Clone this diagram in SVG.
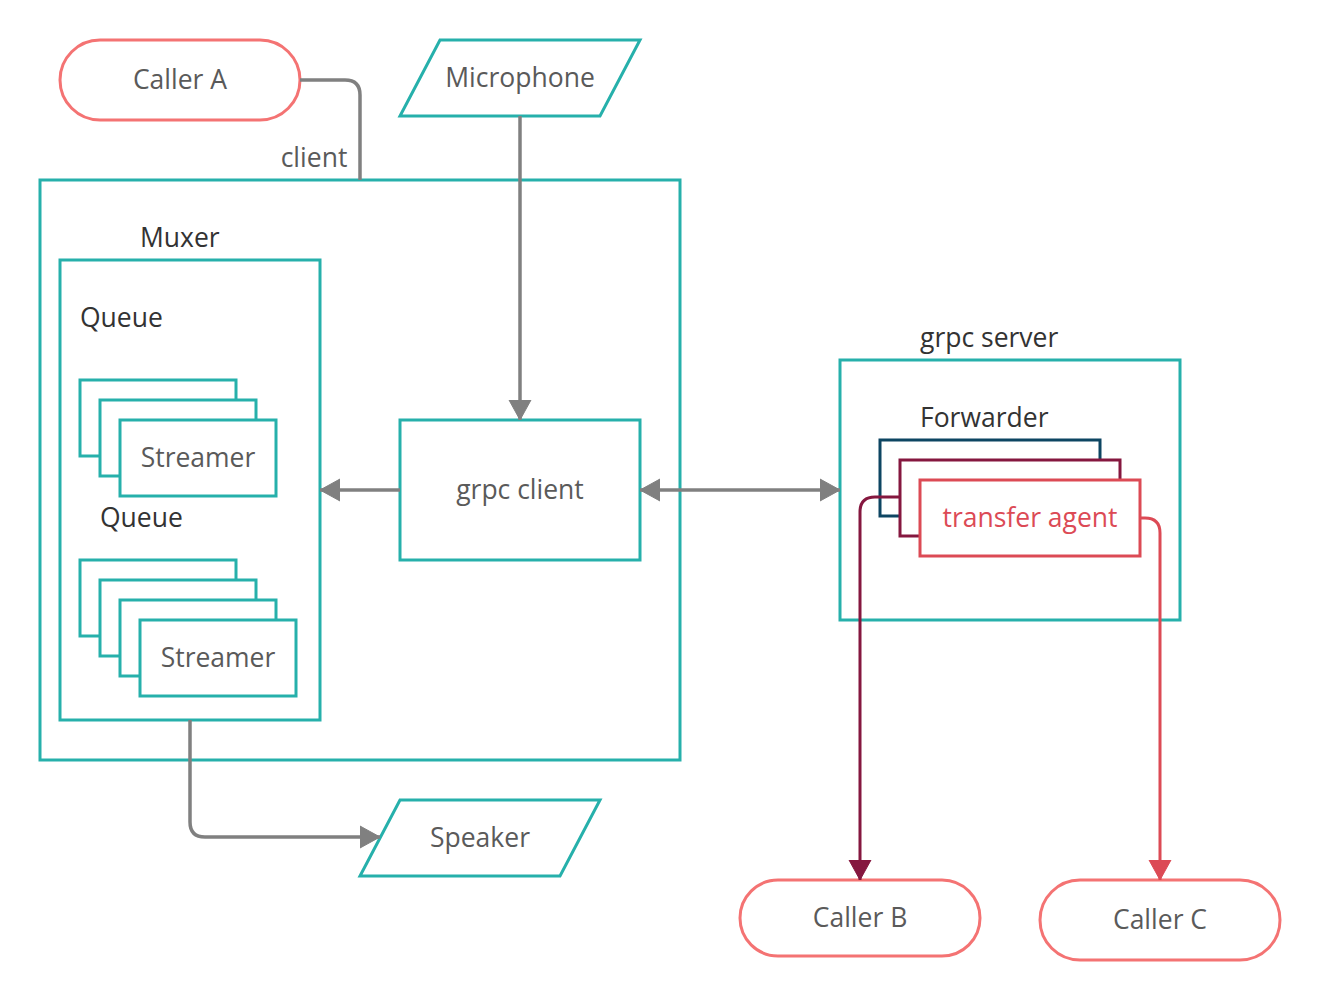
<svg xmlns="http://www.w3.org/2000/svg" width="1320" height="1000" viewBox="0 0 1320 1000">
<defs>
<style>
.t{font-family:"Open Sans","Noto Sans",sans-serif;font-size:26.5px;fill:#5a5a5a;text-anchor:middle}
.h{font-family:"Open Sans","Noto Sans",sans-serif;font-size:26.5px;fill:#333333}
.tl{fill:none;stroke:#26b0ab;stroke-width:3}
.tlw{fill:#ffffff;stroke:#26b0ab;stroke-width:3}
.cl{fill:#ffffff;stroke:#f47373;stroke-width:3}
.g{fill:none;stroke:#808080;stroke-width:3.5}
</style>
<marker id="ag" viewBox="0 0 20 24" refX="20" refY="12" markerWidth="20" markerHeight="24" markerUnits="userSpaceOnUse" orient="auto-start-reverse"><path d="M0,1 L20,12 L0,23 Z" fill="#808080" stroke="#808080" stroke-width="1" stroke-linejoin="round"/></marker>
<marker id="am" viewBox="0 0 20 24" refX="20" refY="12" markerWidth="20" markerHeight="24" markerUnits="userSpaceOnUse" orient="auto"><path d="M0,1 L20,12 L0,23 Z" fill="#85173f" stroke="#85173f" stroke-width="1" stroke-linejoin="round"/></marker>
<marker id="ar" viewBox="0 0 20 24" refX="20" refY="12" markerWidth="20" markerHeight="24" markerUnits="userSpaceOnUse" orient="auto"><path d="M0,1 L20,12 L0,23 Z" fill="#dc4a55" stroke="#dc4a55" stroke-width="1" stroke-linejoin="round"/></marker>
</defs>
<rect width="1320" height="1000" fill="#ffffff"/>

<g id="client-box">
<rect class="tl" x="40" y="180" width="640" height="580"/>
</g>
<g id="muxer">
<text class="h" x="140" y="247">Muxer</text>
<rect class="tl" x="60" y="260" width="260" height="460"/>
</g>
<g id="queue1">
<text class="h" x="80" y="327">Queue</text>
<rect class="tlw" x="80" y="380" width="156" height="76"/>
<rect class="tlw" x="100" y="400" width="156" height="76"/>
<rect class="tlw" x="120" y="420" width="156" height="76"/>
<text class="t" x="198" y="467">Streamer</text>
</g>
<g id="queue2">
<text class="h" x="100" y="527">Queue</text>
<rect class="tlw" x="80" y="560" width="156" height="76"/>
<rect class="tlw" x="100" y="580" width="156" height="76"/>
<rect class="tlw" x="120" y="600" width="156" height="76"/>
<rect class="tlw" x="140" y="620" width="156" height="76"/>
<text class="t" x="218" y="667">Streamer</text>
</g>
<g id="grpc-client">
<rect class="tlw" x="400" y="420" width="240" height="140"/>
<text class="t" x="520" y="499">grpc client</text>
</g>
<g id="caller-a">
<rect class="cl" x="60" y="40" width="240" height="80" rx="40"/>
<text class="t" x="180" y="89">Caller A</text>
</g>
<g id="microphone">
<polygon class="tlw" points="440,40 640,40 600,116 400,116"/>
<text class="t" x="520" y="87">Microphone</text>
</g>
<g id="speaker">
<polygon class="tlw" points="400,800 600,800 560,876 360,876"/>
<text class="t" x="480" y="847">Speaker</text>
</g>
<g id="grpc-server">
<text class="h" x="920" y="347">grpc server</text>
<rect class="tl" x="840" y="360" width="340" height="260"/>
</g>
<g id="forwarder">
<text class="h" x="920" y="427">Forwarder</text>
<rect x="880" y="440" width="220" height="76" fill="#ffffff" stroke="#0d4562" stroke-width="3"/>
<rect x="900" y="460" width="220" height="76" fill="#ffffff" stroke="#85173f" stroke-width="3"/>
<rect x="920" y="480" width="220" height="76" fill="#ffffff" stroke="#dc4a55" stroke-width="3"/>
<text class="t" x="1030" y="527" style="fill:#dc4a55">transfer agent</text>
</g>
<g id="caller-b">
<rect class="cl" x="740" y="880" width="240" height="76" rx="38"/>
<text class="t" x="860" y="927">Caller B</text>
</g>
<g id="caller-c">
<rect class="cl" x="1040" y="880" width="240" height="80" rx="40"/>
<text class="t" x="1160" y="929">Caller C</text>
</g>

<g id="connectors">
<path class="g" d="M300,80 H345 Q360,80 360,95 V180"/>
<text class="t" x="314" y="167">client</text>
<path class="g" d="M520,116 V420" marker-end="url(#ag)"/>
<path class="g" d="M400,490 H320" marker-end="url(#ag)"/>
<path class="g" d="M640,490 H840" marker-start="url(#ag)" marker-end="url(#ag)"/>
<path class="g" d="M190,720 V822 Q190,837 205,837 H380" marker-end="url(#ag)"/>
<path d="M900,497 H875 Q860,497 860,512 V880" fill="none" stroke="#85173f" stroke-width="3" marker-end="url(#am)"/>
<path d="M1140,518 H1145 Q1160,518 1160,533 V880" fill="none" stroke="#dc4a55" stroke-width="3" marker-end="url(#ar)"/>
</g>
</svg>
